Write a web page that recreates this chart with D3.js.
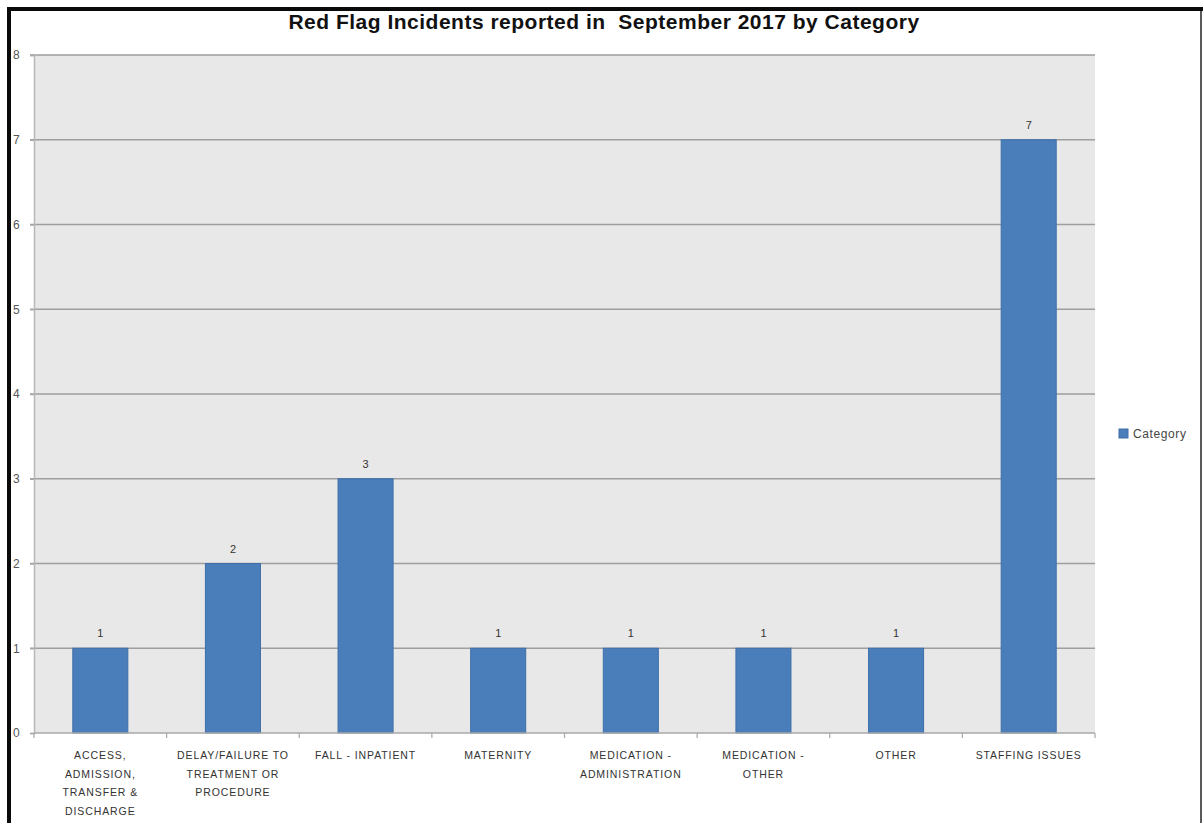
<!DOCTYPE html>
<html>
<head>
<meta charset="utf-8">
<script src="https://cdn.jsdelivr.net/npm/d3@7"></script>
<style>
  html, body { margin: 0; padding: 0; background: #ffffff; }
  svg { display: block; }
  text { font-family: "Liberation Sans", Arial, sans-serif; white-space: pre; }
</style>
</head>
<body>
<svg id="chart" width="1203" height="823"></svg>
<script>
// Red flag incident counts per category, September 2017
const categories = [
  "ACCESS, ADMISSION, TRANSFER & DISCHARGE",
  "DELAY/FAILURE TO TREATMENT OR PROCEDURE",
  "FALL - INPATIENT",
  "MATERNITY",
  "MEDICATION - ADMINISTRATION",
  "MEDICATION - OTHER",
  "OTHER",
  "STAFFING ISSUES"
];
// Line breaks used for the wrapped axis labels
const categoryLines = [
  ["ACCESS,", "ADMISSION,", "TRANSFER &", "DISCHARGE"],
  ["DELAY/FAILURE TO", "TREATMENT OR", "PROCEDURE"],
  ["FALL - INPATIENT"],
  ["MATERNITY"],
  ["MEDICATION -", "ADMINISTRATION"],
  ["MEDICATION -", "OTHER"],
  ["OTHER"],
  ["STAFFING ISSUES"]
];
const incidents = [1, 2, 3, 1, 1, 1, 1, 7];
const yTicks = [0, 1, 2, 3, 4, 5, 6, 7, 8];
const seriesName = "Category";
const titleText = "Red Flag Incidents reported in  September 2017 by Category";

const svg = d3.select("#chart");
const W = 1203, H = 823;

// Outer frame: heavy dark border at top/left, thin grey at right
svg.append("rect").attr("x", 0).attr("y", 0).attr("width", W).attr("height", H).attr("fill", "#ffffff");
svg.append("rect").attr("x", 7).attr("y", 7).attr("width", W - 7).attr("height", 4).attr("fill", "#0a0a0a");
svg.append("rect").attr("x", 7).attr("y", 7).attr("width", 4).attr("height", H - 7).attr("fill", "#0a0a0a");
svg.append("rect").attr("x", 1200).attr("y", 11).attr("width", 2).attr("height", H - 11).attr("fill", "#5a5a5a");

const plot = { left: 34, top: 55, right: 1095, bottom: 733 };

const x = d3.scaleBand()
  .domain(categories)
  .range([plot.left, plot.right])
  .paddingInner(0.585)
  .paddingOuter(0.2925);

const y = d3.scaleLinear()
  .domain([0, 8])
  .range([plot.bottom, plot.top]);

// Plot background
svg.append("rect")
  .attr("x", plot.left).attr("y", plot.top)
  .attr("width", plot.right - plot.left).attr("height", plot.bottom - plot.top)
  .attr("fill", "#e8e8e8");

// Horizontal gridlines
svg.append("g")
  .selectAll("line")
  .data(yTicks.filter(d => d > 0))
  .join("line")
  .attr("x1", plot.left - 4).attr("x2", plot.right)
  .attr("y1", d => y(d)).attr("y2", d => y(d))
  .attr("stroke", "#9e9e9e").attr("stroke-width", 1.5);

// Y axis
const yAxis = svg.append("g")
  .attr("transform", `translate(${plot.left},0)`)
  .call(d3.axisLeft(y).tickValues(yTicks).tickSize(4).tickPadding(14).tickFormat(d3.format("d")));
yAxis.select(".domain").attr("stroke", "#b8b8b8").attr("stroke-width", 1.5);
yAxis.selectAll(".tick line").attr("stroke", "#a8a8a8").attr("stroke-width", 1.5);
yAxis.selectAll(".tick text")
  .attr("fill", "#555").attr("font-size", 12).attr("text-anchor", "start").attr("x", -21);

// Bars
svg.append("g")
  .selectAll("rect")
  .data(incidents)
  .join("rect")
  .attr("x", (d, i) => x(categories[i]))
  .attr("y", d => y(d))
  .attr("width", x.bandwidth())
  .attr("height", d => y(0) - y(d))
  .attr("fill", "#4a7ebb")
  .attr("stroke", "#3f6fa8")
  .attr("stroke-width", 1);

// Value labels
svg.append("g")
  .selectAll("text")
  .data(incidents)
  .join("text")
  .attr("x", (d, i) => x(categories[i]) + x.bandwidth() / 2)
  .attr("y", d => y(d) - 11)
  .attr("text-anchor", "middle")
  .attr("font-size", 11)
  .attr("fill", "#333")
  .text(d => d);

// X axis line and category divider ticks
const step = x.step();
const xAxisG = svg.append("g");
xAxisG.append("line")
  .attr("x1", plot.left).attr("x2", plot.right)
  .attr("y1", y(0)).attr("y2", y(0))
  .attr("stroke", "#a8a8a8").attr("stroke-width", 1.5);
xAxisG.selectAll("line.div")
  .data(d3.range(categories.length + 1))
  .join("line")
  .attr("class", "div")
  .attr("x1", i => plot.left + i * step).attr("x2", i => plot.left + i * step)
  .attr("y1", y(0)).attr("y2", y(0) + 5)
  .attr("stroke", "#a8a8a8").attr("stroke-width", 1.2);

// Wrapped category labels
xAxisG.selectAll("text.cat")
  .data(categoryLines)
  .join("text")
  .attr("class", "cat")
  .attr("text-anchor", "middle")
  .attr("font-size", 10.5)
  .attr("letter-spacing", 0.9)
  .attr("fill", "#333")
  .each(function (lines, i) {
    const t = d3.select(this);
    const cx = x(categories[i]) + x.bandwidth() / 2;
    lines.forEach((ln, k) => {
      t.append("tspan").attr("x", cx).attr("y", 759 + k * 18.5).text(ln);
    });
  });

// Title
svg.append("text")
  .attr("x", 604).attr("y", 29)
  .attr("text-anchor", "middle")
  .attr("font-size", 21)
  .attr("font-weight", "bold")
  .attr("letter-spacing", 0.5)
  .attr("fill", "#111")
  .text(titleText);

// Legend
const legend = svg.append("g").attr("transform", "translate(1119,429)");
legend.append("rect").attr("width", 9).attr("height", 9).attr("fill", "#4a7ebb").attr("stroke", "#3f6fa8");
legend.append("text").attr("x", 14).attr("y", 9).attr("font-size", 12).attr("letter-spacing", 0.6).attr("fill", "#444").text(seriesName);
</script>
</body>
</html>
